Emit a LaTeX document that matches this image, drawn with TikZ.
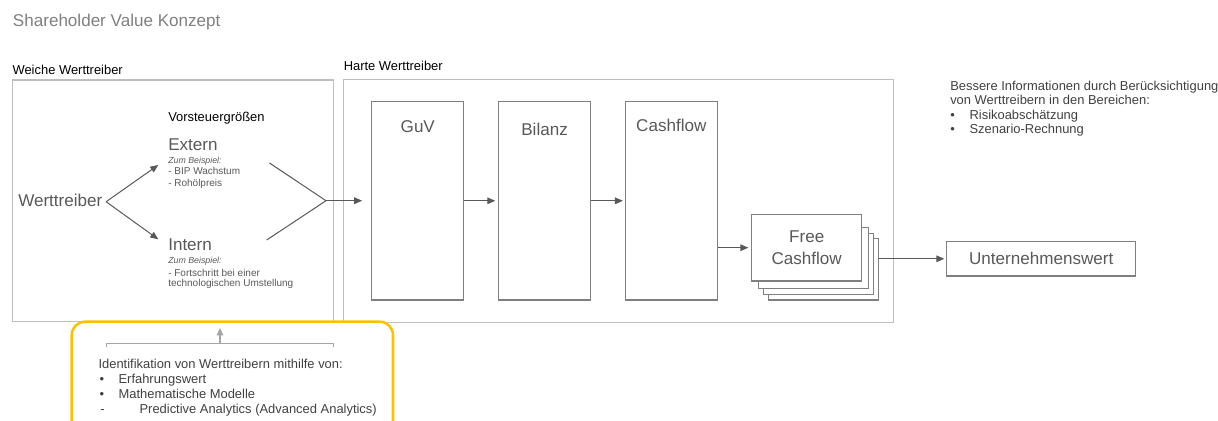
\documentclass[tikz,border=0pt]{standalone}
\usepackage{fontspec}
\setmainfont{Liberation Sans}
\usetikzlibrary{arrows.meta}

\definecolor{titelgrau}{HTML}{808080}
\definecolor{textgrau}{HTML}{595959}
\definecolor{fliessgrau}{HTML}{404040}
\definecolor{rahmengrau}{HTML}{BFBFBF}
\definecolor{boxgrau}{HTML}{7F7F7F}
\definecolor{klammergrau}{HTML}{A6A6A6}
\definecolor{gelb}{HTML}{FFC000}

\tikzset{
  titel/.style={anchor=base west, inner sep=0pt, text=titelgrau, font=\fontsize{12.8}{15}\selectfont},
  kopf/.style={anchor=base west, inner sep=0pt, text=black, font=\fontsize{9.7}{11}\selectfont},
  gross/.style={inner sep=0pt, text=textgrau, font=\fontsize{12.8}{16}\selectfont},
  bsp/.style={anchor=base west, inner sep=0pt, text=textgrau, font=\fontsize{6.6}{8}\selectfont\itshape},
  klein/.style={anchor=base west, inner sep=0pt, text=textgrau, font=\fontsize{7.5}{9}\selectfont},
  fliess/.style={anchor=base west, inner sep=0pt, text=fliessgrau, font=\fontsize{9.7}{11}\selectfont},
  rahmen/.style={draw=rahmengrau, line width=1.1pt},
  block/.style={draw=boxgrau, line width=1pt, fill=white, inner sep=0pt,
    minimum width=69pt, minimum height=148.7pt},
  stapel/.style={draw=boxgrau, line width=1pt, fill=white, inner sep=0pt, minimum width=82.5pt},
  linie/.style={draw=textgrau, line width=0.75pt},
  pfeil/.style={linie, -{Triangle[length=6pt,width=5pt]}},
  klammer/.style={draw=klammergrau, line width=0.9pt}
}

\begin{document}
\begin{tikzpicture}[x=0.75pt, y=-0.75pt]
   \useasboundingbox (0,0) rectangle (1218,421);

   \node[titel] (titel) at (12.7,26.7) {Shareholder Value Konzept};

   \node[kopf] (weichlabel) at (12.3,74) {Weiche Werttreiber};
   \draw[rahmen] (12.3,80) rectangle (333.3,321.7);
   \node[kopf] (hartlabel) at (343.5,70) {Harte Werttreiber};
   \draw[rahmen] (343.5,79.5) rectangle (893.3,322.7);

   \node[kopf] (vorsteuer) at (168,121.7) {Vorsteuergrößen};
   \node[gross, anchor=base west] (werttreiber) at (18,206.5) {Werttreiber};
   \node[gross, anchor=base west] (extern) at (168,150) {Extern};
   \node[bsp] (externbsp) at (168,163.3) {Zum Beispiel:};
   \node[klein] (externa) at (168,174) {- BIP Wachstum};
   \node[klein] (externb) at (168,186.5) {- Rohölpreis};
   \node[gross, anchor=base west] (intern) at (168,250.7) {Intern};
   \node[bsp] (internbsp) at (168,263.3) {Zum Beispiel:};
   \node[klein] (interna) at (168,276) {- Fortschritt bei einer};
   \node[klein] (internb) at (168,286.5) {technologischen Umstellung};

   \coordinate (externpfeil) at (158.3,165);
   \coordinate (internpfeil) at (158.3,239.3);
   \coordinate (externende) at (269.5,163);
   \coordinate (internende) at (266.7,240);
   \coordinate (knoten) at (326,200.7);
   \draw[pfeil] ([xshift=2.6pt,yshift=-1pt]werttreiber.east) -- (externpfeil);
   \draw[pfeil] ([xshift=2.6pt,yshift=-1pt]werttreiber.east) -- (internpfeil);
   \draw[linie] (externende) -- (knoten) -- (internende);

   \node[block] (guv) at (417.8,200.8) {};
   \node[block] (bilanz) at (544.6,200.8) {};
   \node[block] (cashflow) at (671.3,200.8) {};
   \node[gross, anchor=base] (guvtext) at (417.8,132.7) {GuV};
   \node[gross, anchor=base] (bilanztext) at (544.6,135) {Bilanz};
   \node[gross, anchor=base] (cashflowtext) at (671.3,131.7) {Cashflow};

   \node[stapel, minimum height=46.25pt] (fcfc) at (823.3,269.2) {};
   \node[stapel, minimum height=45.75pt] (fcfb) at (818.3,263.8) {};
   \node[stapel, minimum height=45.5pt] (fcfa) at (813.3,258) {};
   \node[stapel, gross, draw=boxgrau, minimum height=50pt, align=center] (fcf) at (806.7,247.7) {Free\\Cashflow};

   \node[gross, draw=boxgrau, line width=1pt, minimum width=141.75pt, minimum height=25.7pt]
      (wert) at (1041.2,258.8) {Unternehmenswert};

   \draw[pfeil, shorten >=6.75pt] (knoten) -- (knoten -| guv.west);
   \draw[pfeil, shorten >=2pt] (guv.east) -- (bilanz.west);
   \draw[pfeil, shorten >=1.3pt] (bilanz.east) -- (cashflow.west);
   \draw[pfeil, shorten >=2pt] (cashflow.east |- fcf.west) -- (fcf.west);
   \draw[pfeil, shorten >=1.3pt] (fcfc.east |- wert.west) -- (wert.west);

   \node[fliess] (besser) at (950,90) {Bessere Informationen durch Berücksichtigung};
   \node[fliess] (bereiche) at (950,104.3) {von Werttreibern in den Bereichen:};
   \node[fliess] (punkta) at (950,119) {•};
   \node[fliess] (risiko) at (969.3,119) {Risikoabschätzung};
   \node[fliess] (punktb) at (950,133.5) {•};
   \node[fliess] (szenario) at (969.3,133.5) {Szenario-Rechnung};

   \begin{scope}
      \clip (0,0) rectangle (1218,421);
      \draw[draw=gelb, line width=1.9pt, rounded corners=10pt] (71.7,321.7) rectangle (393,450);
   \end{scope}
   \coordinate (klammerlinks) at (106.7,343.3);
   \coordinate (klammerrechts) at (333.3,343.3);
   \coordinate (klammermitte) at (220,343.3);
   \coordinate (klammerziel) at (220,328);
   \draw[klammer] ([yshift=-3pt]klammerlinks) -- (klammerlinks) -- (klammerrechts) -- ([yshift=-3pt]klammerrechts);
   \draw[klammer, -{Triangle[length=5.5pt,width=5pt]}] (klammermitte) -- (klammerziel);

   \node[fliess] (identifikation) at (98.3,368.3) {Identifikation von Werttreibern mithilfe von:};
   \node[fliess] (punktc) at (99.3,383) {•};
   \node[fliess] (erfahrung) at (118.3,383) {Erfahrungswert};
   \node[fliess] (punktd) at (99.3,398.3) {•};
   \node[fliess] (modelle) at (118.3,398.3) {Mathematische Modelle};
   \node[fliess] (strich) at (100,413.5) {-};
   \node[fliess] (predictive) at (139.3,413.5) {Predictive Analytics (Advanced Analytics)};
\end{tikzpicture}
\end{document}
